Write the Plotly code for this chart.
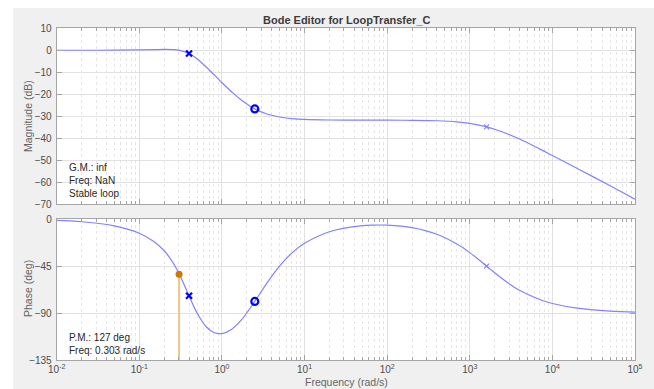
import plotly.graph_objects as go

# ---- data ----
freq = [0.01, 0.02, 0.05, 0.1, 0.15, 0.2, 0.25, 0.3, 0.4, 0.5, 0.65, 0.8, 1, 1.3, 1.7,
        2.5, 3.5, 5, 7, 10, 20, 50, 70, 100, 200, 400, 700, 1000, 1600, 2500, 4000,
        7000, 10000, 20000, 50000, 100000]
mag_db = [0.0, 0.0, 0.04, 0.14, 0.27, 0.36, 0.32, 0.07, -1.44, -3.87, -7.75, -11.1, -14.8,
          -18.8, -22.5, -26.7, -29.0, -30.4, -31.1, -31.5, -31.75, -31.83, -31.84, -31.85,
          -31.9, -32.1, -32.6, -33.3, -34.85, -37.2, -40.4, -44.9, -47.9, -53.8, -61.7, -67.8]
phase_deg = [-1.3, -2.6, -6.6, -13.6, -21.5, -30.4, -40.6, -51.7, -73.5, -90.0, -103.4,
             -108.7, -109.7, -105.8, -97.1, -78.9, -61.4, -44.9, -32.7, -23.3, -12.2, -6.4,
             -5.8, -5.9, -8.3, -14.6, -24.0, -32.2, -45.1, -57.5, -68.3, -77.1, -80.9,
             -85.4, -88.2, -89.1]

pole_freq = [0.4]
pole_mag = [-1.44]
pole_phase = [-73.5]
zero_freq = [2.5]
zero_mag = [-26.7]
zero_phase = [-78.9]
hf_pole_freq = [1600]
hf_pole_mag = [-34.85]
hf_pole_phase = [-45.1]

pm_freq = [0.303]
pm_phase = [-53]
phase_floor = -135

mag_ticks = [10, 0, -10, -20, -30, -40, -50, -60, -70]
phase_ticks = [0, -45, -90, -135]
x_tick_vals = [1e-2, 1e-1, 1e0, 1e1, 1e2, 1e3, 1e4, 1e5]
x_tick_text = ["10<sup>-2</sup>", "10<sup>-1</sup>", "10<sup>0</sup>", "10<sup>1</sup>",
               "10<sup>2</sup>", "10<sup>3</sup>", "10<sup>4</sup>", "10<sup>5</sup>"]
minor_vals = [m * 10 ** e for e in range(-2, 5) for m in range(2, 10)]

# ---- figure ----
W, H = 654, 389
LINE = "rgb(130,130,255)"
BLUE = "rgb(0,0,255)"
GRID = "rgb(226,226,226)"
MINOR = "rgb(230,230,230)"
FRAME = "rgb(165,165,165)"
TXT = "rgb(77,77,77)"
FONT = "Liberation Sans, Arial, sans-serif"

fig = go.Figure()

# magnitude
fig.add_trace(go.Scatter(x=freq, y=mag_db, mode="lines", line=dict(color=LINE, width=1.2, shape="spline"),
                         xaxis="x", yaxis="y", hoverinfo="skip"))
fig.add_trace(go.Scatter(x=pole_freq, y=pole_mag, mode="markers",
                         marker=dict(symbol="x-thin", size=6, line=dict(color=BLUE, width=2.2)),
                         xaxis="x", yaxis="y"))
fig.add_trace(go.Scatter(x=zero_freq, y=zero_mag, mode="markers",
                         marker=dict(symbol="circle-open", size=7, color=BLUE, line=dict(color=BLUE, width=2.2)),
                         xaxis="x", yaxis="y"))
fig.add_trace(go.Scatter(x=hf_pole_freq, y=hf_pole_mag, mode="markers",
                         marker=dict(symbol="x-thin", size=5, line=dict(color=LINE, width=1.2)),
                         xaxis="x", yaxis="y"))

# phase
fig.add_trace(go.Scatter(x=[pm_freq[0], pm_freq[0]], y=[phase_floor, pm_phase[0]], mode="lines",
                         line=dict(color="rgb(242,196,140)", width=2),
                         xaxis="x2", yaxis="y2"))
fig.add_trace(go.Scatter(x=freq, y=phase_deg, mode="lines", line=dict(color=LINE, width=1.2, shape="spline"),
                         xaxis="x2", yaxis="y2"))
fig.add_trace(go.Scatter(x=pole_freq, y=pole_phase, mode="markers",
                         marker=dict(symbol="x-thin", size=6, line=dict(color=BLUE, width=2.2)),
                         xaxis="x2", yaxis="y2"))
fig.add_trace(go.Scatter(x=zero_freq, y=zero_phase, mode="markers",
                         marker=dict(symbol="circle-open", size=7, color=BLUE, line=dict(color=BLUE, width=2.2)),
                         xaxis="x2", yaxis="y2"))
fig.add_trace(go.Scatter(x=hf_pole_freq, y=hf_pole_phase, mode="markers",
                         marker=dict(symbol="x-thin", size=5, line=dict(color=LINE, width=1.2)),
                         xaxis="x2", yaxis="y2"))
fig.add_trace(go.Scatter(x=pm_freq, y=pm_phase, mode="markers",
                         marker=dict(symbol="circle", size=7, color="rgb(204,122,0)"),
                         xaxis="x2", yaxis="y2"))

x0p, x1p = 56.7 / W, 635 / W
top_dom = [(H - 204) / H, (H - 28.3) / H]
bot_dom = [(H - 360) / H, (H - 219) / H]

def xax(anchor, show_labels=False):
    return dict(type="log", range=[-2, 5], domain=[x0p, x1p], anchor=anchor, automargin=False,
                tickmode="array", tickvals=x_tick_vals, ticktext=x_tick_text,
                showticklabels=show_labels, ticks="inside", ticklen=5, tickcolor=FRAME,
                showgrid=True, gridcolor=GRID, gridwidth=1,
                showline=True, linecolor=FRAME, linewidth=1, mirror="allticks",
                zeroline=False,
                minor=dict(tickmode="array", tickvals=minor_vals, ticks="inside", ticklen=3,
                           tickcolor=FRAME, showgrid=True, gridcolor=MINOR, griddash="dot", gridwidth=1),
                tickfont=dict(family=FONT, size=10, color=TXT))

def yax(anchor, domain, rng, ticks):
    return dict(range=rng, domain=domain, anchor=anchor, tickmode="array", tickvals=ticks, automargin=False,
                ticks="inside", ticklen=5, tickcolor=FRAME,
                showgrid=True, gridcolor=GRID, gridwidth=1, zeroline=False,
                showline=True, linecolor=FRAME, linewidth=1, mirror="allticks",
                tickfont=dict(family=FONT, size=10, color=TXT), ticklabelstandoff=2)

fig.update_layout(
    width=W, height=H, showlegend=False,
    margin=dict(l=0, r=0, t=0, b=0, autoexpand=False),
    paper_bgcolor="rgb(240,240,240)", plot_bgcolor="white",
    xaxis=xax("y", show_labels=False),
    yaxis=yax("x", top_dom, [-70, 10], mag_ticks),
    xaxis2=xax("y2", show_labels=True),
    yaxis2=yax("x2", bot_dom, [-135, 0], phase_ticks),
    shapes=[
        dict(type="rect", xref="paper", yref="paper", x0=0, x1=13 / W, y0=0, y1=1,
             fillcolor="white", line=dict(width=0), layer="below"),
        dict(type="rect", xref="paper", yref="paper", x0=0, x1=1, y0=(H - 8) / H, y1=1,
             fillcolor="white", line=dict(width=0), layer="below"),
        dict(type="rect", xref="paper", yref="paper", x0=58 / W, x1=117 / W,
             y0=(H - 203) / H, y1=(H - 160) / H, fillcolor="white", line=dict(width=0), layer="between"),
        dict(type="rect", xref="paper", yref="paper", x0=58 / W, x1=141 / W,
             y0=(H - 359) / H, y1=(H - 327) / H, fillcolor="white", line=dict(width=0), layer="between"),
    ],
    annotations=[
        dict(text="<b>Bode Editor for LoopTransfer_C</b>", x=347 / W, y=(H - 20) / H, xref="paper", yref="paper",
             showarrow=False, xanchor="center", yanchor="middle", font=dict(family=FONT, size=11, color="rgb(60,60,60)")),
        dict(text="Magnitude (dB)", x=28 / W, y=(H - 116) / H, xref="paper", yref="paper", textangle=-90,
             showarrow=False, xanchor="center", yanchor="middle", font=dict(family=FONT, size=10.5, color="rgb(100,100,100)")),
        dict(text="Phase (deg)", x=28 / W, y=(H - 289) / H, xref="paper", yref="paper", textangle=-90,
             showarrow=False, xanchor="center", yanchor="middle", font=dict(family=FONT, size=10.5, color="rgb(100,100,100)")),
        dict(text="Frequency (rad/s)", x=346 / W, y=(H - 382) / H, xref="paper", yref="paper",
             showarrow=False, xanchor="center", yanchor="middle", font=dict(family=FONT, size=10.5, color="rgb(100,100,100)")),
        dict(text="G.M.: inf<br>Freq: NaN<br>Stable loop", x=67 / W, y=(H - 180) / H, xref="paper", yref="paper",
             showarrow=False, xanchor="left", yanchor="middle", align="left",
             font=dict(family=FONT, size=10, color="rgb(40,40,40)")),
        dict(text="P.M.: 127 deg<br>Freq: 0.303 rad/s", x=67 / W, y=(H - 344) / H, xref="paper", yref="paper",
             showarrow=False, xanchor="left", yanchor="middle", align="left",
             font=dict(family=FONT, size=10, color="rgb(40,40,40)")),
    ],
)

fig.write_html("out.html", config={"displayModeBar": False},
               post_script="document.body.style.margin='0px';document.body.style.padding='0px';")
